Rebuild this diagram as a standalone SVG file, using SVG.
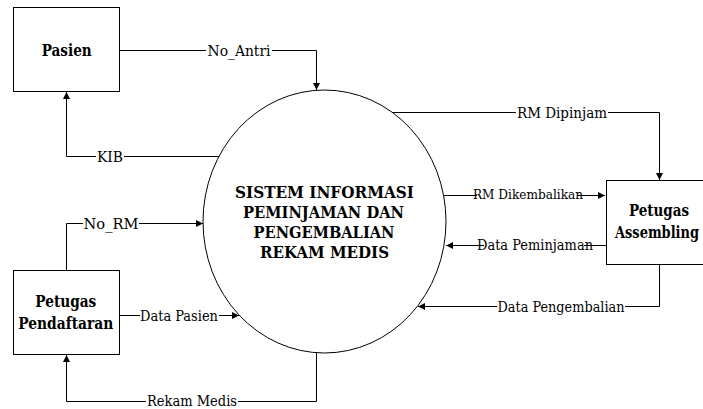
<svg xmlns="http://www.w3.org/2000/svg" width="703" height="409" viewBox="0 0 703 409">
<style>
.box{fill:#fff;stroke:#000;stroke-width:1}
.lbl{font-family:'DejaVu Serif Condensed','DejaVu Serif',serif;font-size:14.5px;fill:#000;text-anchor:middle}
.bold{font-family:'DejaVu Serif Condensed','DejaVu Serif',serif;font-weight:bold;font-size:16px;fill:#000;text-anchor:middle}
.ln{fill:none;stroke:#000;stroke-width:1}
.bg{fill:#fff}
</style>
<defs>
<marker id="arr" viewBox="0 0 10 10" refX="10" refY="5" markerWidth="9" markerHeight="7" markerUnits="userSpaceOnUse" orient="auto">
<path d="M0,0 L10,5 L0,10 z" fill="#000"/>
</marker>
</defs>
<rect width="703" height="409" fill="#fff"/>
<g id="connectors">
<path class="ln" d="M119.5,50.5 H316.5 V90" marker-end="url(#arr)"/>
<rect class="bg" x="206" y="42" width="66" height="16"/>
<text class="lbl" x="239" y="55.5" textLength="63" lengthAdjust="spacingAndGlyphs">No_Antri</text>
<path class="ln" d="M219,156.5 H66.5 V92" marker-end="url(#arr)"/>
<rect class="bg" x="96" y="148" width="28" height="16"/>
<text class="lbl" x="110" y="161.5" textLength="26" lengthAdjust="spacingAndGlyphs">KIB</text>
<path class="ln" d="M393,112.5 H659.5 V180" marker-end="url(#arr)"/>
<rect class="bg" x="516" y="104" width="92" height="16"/>
<text class="lbl" x="562" y="117.5" textLength="90" lengthAdjust="spacingAndGlyphs">RM Dipinjam</text>
<path class="ln" d="M444,195.5 H605" marker-end="url(#arr)"/>
<rect class="bg" x="477" y="188" width="100" height="14"/>
<text class="lbl" x="528" y="199" style="font-size:13px" textLength="110" lengthAdjust="spacingAndGlyphs">RM Dikembalikan</text>
<path class="ln" d="M606,245.5 H446" marker-end="url(#arr)"/>
<rect class="bg" x="484" y="237" width="100" height="16"/>
<text class="lbl" x="535" y="250" textLength="116" lengthAdjust="spacingAndGlyphs">Data Peminjaman</text>
<path class="ln" d="M659.5,264.5 V306.5 H418" marker-end="url(#arr)"/>
<rect class="bg" x="497" y="298" width="128" height="16"/>
<text class="lbl" x="561" y="311.5" textLength="127" lengthAdjust="spacingAndGlyphs">Data Pengembalian</text>
<path class="ln" d="M66.5,270 V223.5 H203" marker-end="url(#arr)"/>
<rect class="bg" x="83" y="215" width="56" height="16"/>
<text class="lbl" x="111" y="228.5" textLength="55" lengthAdjust="spacingAndGlyphs">No_RM</text>
<path class="ln" d="M119.5,315.5 H239" marker-end="url(#arr)"/>
<rect class="bg" x="140" y="307" width="79" height="16"/>
<text class="lbl" x="179" y="320.5" textLength="78" lengthAdjust="spacingAndGlyphs">Data Pasien</text>
<path class="ln" d="M316.5,353 V401.5 H66.5 V355" marker-end="url(#arr)"/>
<rect class="bg" x="146" y="393" width="92" height="15"/>
<text class="lbl" x="192" y="406" textLength="90" lengthAdjust="spacingAndGlyphs">Rekam Medis</text>
</g>
<g id="pasien">
<rect class="box" x="13.5" y="7.5" width="106" height="84"/>
<text class="bold" x="66.7" y="56" textLength="50" lengthAdjust="spacingAndGlyphs">Pasien</text>
</g>
<g id="petugas-pendaftaran">
<rect class="box" x="13.5" y="270.5" width="106" height="84"/>
<text class="bold" x="65.8" y="307" textLength="61" lengthAdjust="spacingAndGlyphs">Petugas</text>
<text class="bold" x="65.8" y="328.5" textLength="95" lengthAdjust="spacingAndGlyphs">Pendaftaran</text>
</g>
<g id="petugas-assembling">
<rect class="box" x="606.5" y="180.5" width="108" height="84"/>
<text class="bold" x="659" y="216" textLength="60" lengthAdjust="spacingAndGlyphs">Petugas</text>
<text class="bold" x="657" y="238" textLength="84" lengthAdjust="spacingAndGlyphs">Assembling</text>
</g>
<g id="sistem">
<ellipse class="box" cx="324.5" cy="221.5" rx="121.5" ry="131.5"/>
<text class="bold" x="324.5" y="198" textLength="179" lengthAdjust="spacingAndGlyphs">SISTEM INFORMASI</text>
<text class="bold" x="323.5" y="218" textLength="161" lengthAdjust="spacingAndGlyphs">PEMINJAMAN DAN</text>
<text class="bold" x="324" y="238" textLength="141" lengthAdjust="spacingAndGlyphs">PENGEMBALIAN</text>
<text class="bold" x="324.5" y="258" textLength="129" lengthAdjust="spacingAndGlyphs">REKAM MEDIS</text>
</g>
</svg>
